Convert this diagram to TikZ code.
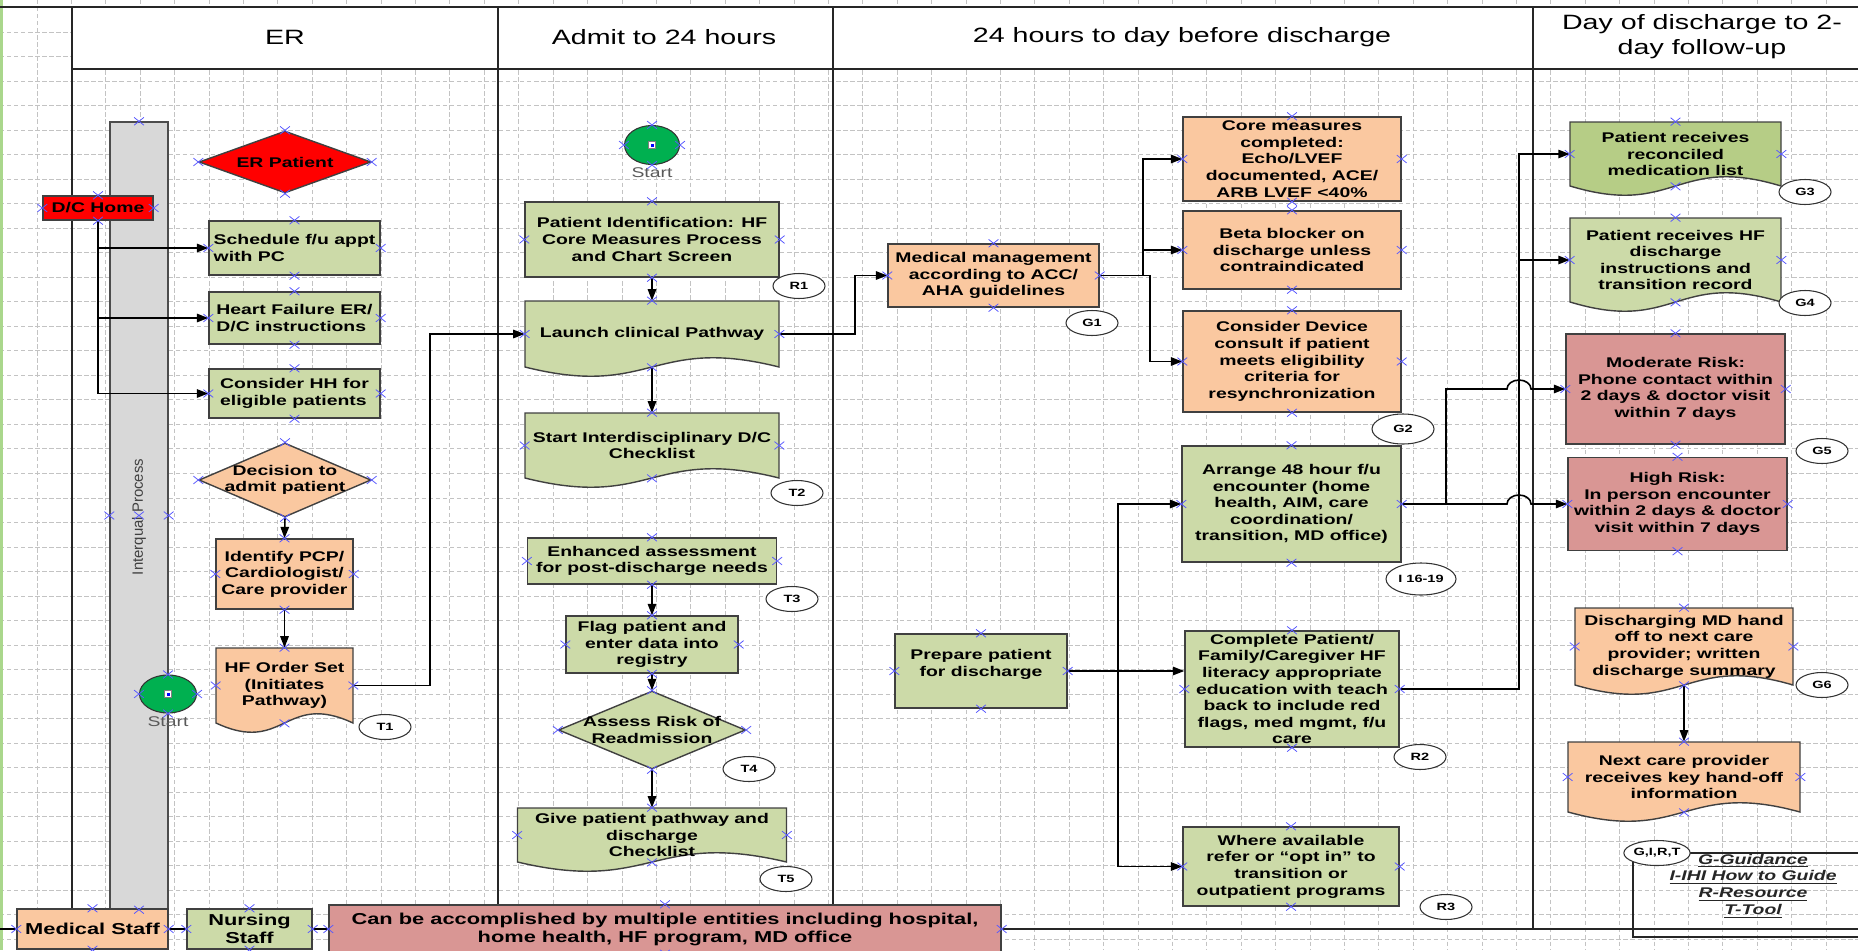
\documentclass[tikz,border=0pt]{standalone}
\usepackage{fontspec}
\setmainfont{Liberation Sans}[FakeStretch=1.38]
\newfontfamily\plainsans{Liberation Sans}
\usetikzlibrary{shapes.geometric,shapes.misc,arrows.meta,calc}

\definecolor{boxgreen}{RGB}{204,218,168}
\definecolor{boxdkgreen}{RGB}{182,205,134}
\definecolor{boxpeach}{RGB}{250,200,160}
\definecolor{boxpink}{RGB}{217,150,148}
\definecolor{boxred}{RGB}{255,0,0}
\definecolor{startgreen}{RGB}{0,176,80}
\definecolor{cptblue}{RGB}{90,90,255}
\definecolor{gridgray}{RGB}{195,195,195}
\definecolor{barfill}{RGB}{216,216,216}
\definecolor{edge}{RGB}{64,64,64}
\definecolor{pageedge}{RGB}{170,215,140}

\newcommand\bodyf{\fontsize{8}{9.45}\selectfont\bfseries}
\newcommand\headf{\fontsize{11.8}{14.2}\selectfont}
\newcommand\reff{\fontsize{6}{7}\selectfont\bfseries}
\newcommand\botf{\fontsize{9}{10.3}\selectfont\bfseries}
\newcommand\startf{\fontsize{8}{9}\selectfont}
\newcommand\legf{\fontsize{8}{9.5}\selectfont\bfseries\itshape}

% document shape: name, cx, cy, width, height, fill, text
\newcommand\docnode[7]{%
  \draw[docedge, fill=#6] ({#2-#4/2},{#3-#5/2}) -- ({#2+#4/2},{#3-#5/2})
    -- ({#2+#4/2},{#3+#5/2}) .. controls (#2,{#3+#5/2-32}) and (#2,{#3+#5/2+32}) .. ({#2-#4/2},{#3+#5/2}) -- cycle;
  \node[txt, wh={#4}{#5}] (#1) at (#2,#3) {#7};
}
% connection points
\newcommand\cpts[1]{\foreach \n in {#1}{\foreach \a in {north,south,east,west}{\node[cpt] at (\n.\a) {};}}}

\begin{document}
\begin{tikzpicture}[x=0.02cm, y=-0.02cm,
    wh/.style 2 args={minimum width=#1*0.02cm, minimum height=#2*0.02cm},
    txt/.style={inner sep=0pt, align=center, font=\bodyf},
    box/.style={txt, rectangle, draw=edge, line width=0.8pt},
    docedge/.style={draw=edge, line width=0.8pt},
    gbox/.style={box, fill=boxgreen},
    pbox/.style={box, fill=boxpeach},
    rbox/.style={box, fill=boxpink},
    redbox/.style={box, fill=boxred},
    dia/.style={diamond, draw=edge, line width=0.8pt, inner sep=0pt},
    refoval/.style={ellipse, draw=black!80, fill=white, line width=0.6pt, inner sep=0pt, wh={52}{25}, font=\reff},
    startc/.style={ellipse, draw=black!80, fill=startgreen, inner sep=0pt, line width=0.6pt},
    startlbl/.style={font=\startf, text=black!65, inner sep=1.5pt},
    cpt/.style={cross out, draw=cptblue, line width=0.45pt, inner sep=0pt, wh={9}{7}},
    conn/.style={draw=black, line width=0.9pt},
    connarr/.style={conn, -{Triangle[length=6.5pt,width=4.8pt]}},
    gridln/.style={gridgray, line width=0.35pt, dash pattern=on 2.5pt off 1.5pt},
    lane/.style={black!85, line width=1.1pt}]
\useasboundingbox (0,0) rectangle (1858,950);

% grid
\foreach \gx in {0,...,53} \draw[gridln] ({37+34.4*\gx},0) -- ({37+34.4*\gx},950);
\foreach \gy in {0,...,38} \draw[gridln] (0,{7.8+24.5*\gy}) -- (1858,{7.8+24.5*\gy});
\draw[pageedge, line width=1.2pt] (1.5,0) -- (1.5,950);

% swim lanes
\draw[lane, fill=white] (72,7) rectangle (1880,69);
\draw[lane] (0,7) -- (1858,7);
\draw[lane] (72,69) -- (72,909);
\draw[lane] (498,7) -- (498,905);
\draw[lane] (833,7) -- (833,905);
\draw[lane] (1533,7) -- (1533,929);
\node[font=\headf] (hdrER) at (285,37) {ER};
\node[font=\headf] (hdrAdmit) at (664,37) {Admit to 24 hours};
\node[font=\headf] (hdrStay) at (1182,37) {24 hours to day before discharge};
\node[font=\headf, align=center] (hdrDay) at (1702,37) {Day of discharge to 2-\\day follow-up};

% Interqual bar
\node[draw=black!70, fill=barfill, line width=0.8pt, inner sep=0pt, wh={58}{787}] (iqbar) at (139,515.5) {};
\node[rotate=90, font=\plainsans\fontsize{8.5}{10}\selectfont, text=black!75] (iqtxt) at (139,517) {Interqual Process};

% ER
\node[dia, fill=boxred, wh={172}{62}, label={[txt]center:ER Patient}] (erpat) at (285,162) {};
\node[redbox, wh={110}{24}] (dchome) at (98,208) {D/C Home};
\node[gbox, wh={171}{54}, align=left] (sched) at (294.5,248) {Schedule f/u appt\\with PC};
\node[gbox, wh={171}{52}, align=left] (hfer) at (294.5,318) {Heart Failure ER/\\D/C instructions};
\node[gbox, wh={171}{49}, align=left] (conshh) at (294.5,393.5) {Consider HH for\\eligible patients};
\node[dia, fill=boxpeach, wh={172}{74}, label={[txt]center:{Decision to\\admit patient}}] (decide) at (285,480) {};
\node[pbox, wh={137}{70}] (identify) at (284.5,574) {Identify PCP/\\Cardiologist/\\Care provider};
\docnode{hforder}{284.5}{685.5}{137}{75}{boxpeach}{HF Order Set\\(Initiates\\Pathway)}
\node[refoval] (t1) at (385,727) {T1};
\node[startc, wh={57}{38}, label={[startlbl]below:Start}] (start1) at (168,694) {};

% Admit to 24 hours
\node[startc, wh={55}{39}, label={[startlbl]below:Start}] (start2) at (652,145) {};
\node[gbox, wh={254}{75}] (patid) at (652,239.5) {Patient Identification: HF\\Core Measures Process\\and Chart Screen};
\node[refoval] (r1) at (799,286) {R1};
\docnode{launch}{652}{334}{254}{66}{boxgreen}{Launch clinical Pathway}
\docnode{interd}{652}{445.5}{254}{65}{boxgreen}{Start Interdisciplinary D/C\\Checklist}
\node[refoval] (t2) at (797,493) {T2};
\node[gbox, wh={249}{46}] (enh) at (652,561) {Enhanced assessment\\for post-discharge needs};
\node[refoval] (t3) at (792,599) {T3};
\node[gbox, wh={172}{57}] (flag) at (652,644.5) {Flag patient and\\enter data into\\registry};
\node[dia, fill=boxgreen, wh={187}{78}, label={[txt]center:{Assess Risk of\\Readmission}}] (assess) at (652,730) {};
\node[refoval] (t4) at (749,769) {T4};
\docnode{give}{652}{835}{269}{54}{boxgreen}{Give patient pathway and\\discharge\\Checklist}
\node[refoval] (t5) at (786,879) {T5};

% 24 hours to day before discharge
\node[pbox, wh={211}{63}] (medmgmt) at (993.5,275.5) {Medical management\\according to ACC/\\AHA guidelines};
\node[refoval] (g1) at (1092,323) {G1};
\node[pbox, wh={218}{84}] (core) at (1292,159) {Core measures\\completed:\\Echo/LVEF\\documented, ACE/\\ARB LVEF <40\%};
\node[pbox, wh={218}{78}] (beta) at (1292,250) {Beta blocker on\\discharge unless\\contraindicated};
\node[pbox, wh={218}{101}] (device) at (1292,361.5) {Consider Device\\consult if patient\\meets eligibility\\criteria for\\resynchronization};
\node[refoval, wh={62}{30}] (g2) at (1403,429) {G2};
\node[gbox, wh={219}{116}] (arrange) at (1291.5,504) {Arrange 48 hour f/u\\encounter (home\\health, AIM, care\\coordination/\\transition, MD office)};
\node[refoval, wh={70}{32}] (i1619) at (1421,579) {I 16-19};
\node[gbox, wh={172}{74}] (prep) at (981,671) {Prepare patient\\for discharge\\\mbox{}};
\node[gbox, wh={214}{116}] (complete) at (1292,689) {Complete Patient/\\Family/Caregiver HF\\literacy appropriate\\education with teach\\back to include red\\flags, med mgmt, f/u\\care};
\node[refoval] (r2) at (1420,757) {R2};
\node[gbox, wh={216}{79}] (where) at (1291,866.5) {Where available\\refer or “opt in” to\\transition or\\outpatient programs};
\node[refoval] (r3) at (1446,907) {R3};

% Day of discharge to 2-day follow-up
\docnode{recon}{1675.5}{154}{211}{64}{boxdkgreen}{Patient receives\\reconciled\\medication list}
\node[refoval] (g3) at (1805,192) {G3};
\docnode{hfinst}{1675.5}{260}{211}{84}{boxgreen}{Patient receives HF\\discharge\\instructions and\\transition record}
\node[refoval] (g4) at (1805,303) {G4};
\node[rbox, wh={219}{110}] (modrisk) at (1675.5,389) {Moderate Risk:\\Phone contact within\\2 days \& doctor visit\\within 7 days};
\node[refoval] (g5) at (1822,451) {G5};
\node[rbox, wh={219}{93}] (highrisk) at (1677.5,504) {High Risk:\\In person encounter\\within 2 days \& doctor\\visit within 7 days};
\docnode{mdhand}{1684}{646.5}{218}{77}{boxpeach}{Discharging MD hand\\off to next care\\provider; written\\discharge summary}
\node[refoval] (g6) at (1822,685) {G6};
\docnode{nextcare}{1684}{777}{232}{70}{boxpeach}{Next care provider\\receives key hand-off\\information}

% legend
\draw[lane] (1633,853) rectangle (1880,937);
\node[refoval] (girt) at (1657,853) {G,I,R,T};
\node[font=\legf, align=center, text=black!85] (legtxt) at (1753,886) {\underline{G-Guidance}\\\underline{I-IHI How to Guide}\\\underline{R-Resource}\\\underline{T-Tool}};

% bottom row
\node[pbox, wh={151}{40}, font=\botf] (medstaff) at (92.5,929) {Medical Staff};
\node[gbox, wh={125}{40}, font=\botf] (nursing) at (249.5,929) {Nursing\\Staff};
\node[rbox, wh={672}{48}, font=\botf] (canbe) at (665,929) {Can be accomplished by multiple entities including hospital,\\home health, HF program, MD office};
\coordinate (lend) at (0,929);
\coordinate (rend) at (1858,929);
\draw[conn] (lend) -- (medstaff.west);
\draw[conn] (medstaff.east) -- (nursing.west);
\draw[conn] (nursing.east) -- (canbe.west);
\draw[lane] (canbe.east) -- (rend);

% connectors
\draw[connarr] (dchome.south) |- (sched.west);
\draw[connarr] (dchome.south) |- (hfer.west);
\draw[connarr] (dchome.south) |- (conshh.west);
\draw[connarr] (decide.south) -- (identify.north);
\draw[connarr] (identify.south) -- (hforder.north);
\coordinate (jogH) at (430,685.5);
\draw[connarr] (hforder.east) -- (jogH) |- (launch.west);

\draw[connarr] (patid.south) -- (launch.north);
\draw[connarr] (launch.south) -- (interd.north);
\draw[connarr] (enh.south) -- (flag.north);
\draw[connarr] (flag.south) -- (assess.north);
\draw[connarr] (assess.south) -- (give.north);
\coordinate (jogL) at (855,334);
\draw[connarr] (launch.east) -- (jogL) |- (medmgmt.west);

\coordinate (brA) at (1143,275.5);
\coordinate (brB) at (1150,275.5);
\draw[connarr] (medmgmt.east) -- (brA) |- (core.west);
\draw[connarr] (brA) |- (beta.west);
\draw[connarr] (medmgmt.east) -- (brB) |- (device.west);

\coordinate (bus) at (1118,671);
\draw[connarr] (prep.east) -- (prep.east -| complete.west);
\draw[connarr] (bus) |- (arrange.west);
\draw[connarr] (bus) |- (where.west);

\coordinate (colx) at (1519,689);
\draw[connarr] (complete.east) -- (colx) |- (recon.west);
\draw[connarr] (colx) |- (hfinst.west);
\coordinate (splitA) at (1446,504);
\coordinate (hopH) at (1507,504);
\coordinate (hopM) at (1507,389);
\draw[connarr] (arrange.east) -- (hopH) arc[start angle=180, end angle=360, x radius=12, y radius=9] -- (highrisk.west);
\draw[connarr] (splitA) |- (hopM) arc[start angle=180, end angle=360, x radius=12, y radius=9] -- (modrisk.west);
\draw[connarr] (mdhand.south) -- (nextcare.north);

% start markers
\foreach \s in {start1,start2} {
  \node[fill=white, draw=black!50, line width=0.3pt, inner sep=0pt, wh={7}{7}] at (\s) {};
  \node[fill=blue, inner sep=0pt, wh={3}{3}] at (\s) {};
}

% connection points
\cpts{erpat,dchome,sched,hfer,conshh,decide,identify,hforder,start1,start2,patid,launch,interd,enh,flag,assess,give}
\cpts{medmgmt,core,beta,device,arrange,prep,complete,where,recon,hfinst,modrisk,highrisk,mdhand,nextcare}
\cpts{medstaff,nursing,canbe,iqbar}
\node[cpt] at (iqbar.center) {};
\end{tikzpicture}
\end{document}
